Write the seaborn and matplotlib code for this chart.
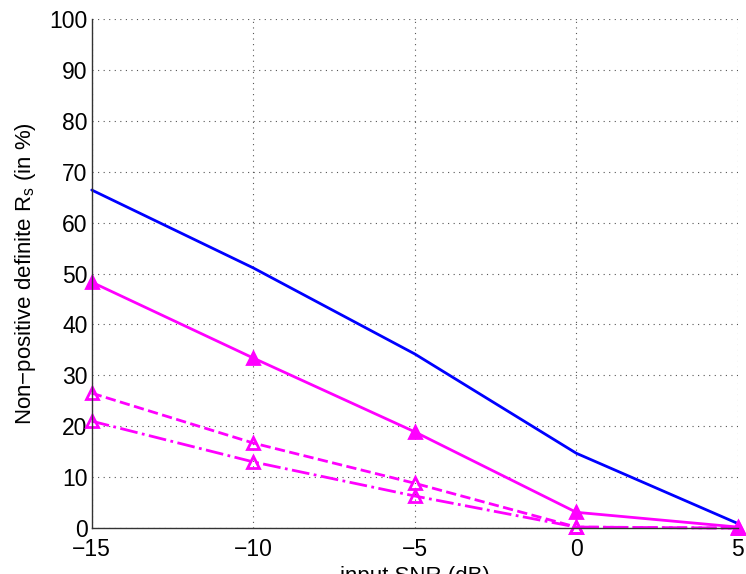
import numpy as np
import pandas as pd
import matplotlib
matplotlib.use("Agg")
import matplotlib.pyplot as plt
from matplotlib.ticker import MultipleLocator
import seaborn as sns

snr = [-15, -10, -5, 0, 5]
blue_vals = [66.4, 51.1, 34.2, 14.7, 0.9]
solid_vals = [48.3, 33.4, 18.9, 3.1, 0.2]
dashed_vals = [26.5, 16.7, 8.8, 0.2, 0.0]
dashdot_vals = [21.0, 13.0, 6.3, 0.2, 0.0]

sns.set_style("white")
plt.rcParams['font.family'] = ['Liberation Sans', 'DejaVu Sans']
plt.rcParams['text.color'] = 'black'
plt.rcParams['axes.labelcolor'] = 'black'
plt.rcParams['xtick.color'] = 'black'
plt.rcParams['ytick.color'] = 'black'

fig = plt.figure(figsize=(7.46, 5.74), dpi=100)
ax = fig.add_axes([0.123, 0.080, 0.866, 0.887])

series = [
    ("blue", blue_vals, "#0000ff", "-", None, True),
    ("solid", solid_vals, "#ff00ff", "-", "^", True),
    ("dashed", dashed_vals, "#ff00ff", "--", "^", False),
    ("dashdot", dashdot_vals, "#ff00ff", "-.", "^", False),
]

for name, vals, col, ls, mk, filled in series:
    df = pd.DataFrame({"snr": snr, "val": vals})
    sns.lineplot(data=df, x="snr", y="val", ax=ax, color=col, linestyle=ls,
                 linewidth=2, marker=mk, markersize=9,
                 markerfacecolor=(col if filled else "none"),
                 markeredgecolor=col, markeredgewidth=2, clip_on=False)

ax.set_xlim(-15, 5)
ax.set_ylim(0, 100)
ax.set_xticks(snr)
ax.set_xticklabels(["\u221215", "\u221210", "\u22125", "0", "5"])
ax.set_yticks(range(0, 101, 10))
ax.xaxis.set_minor_locator(MultipleLocator(1))
ax.yaxis.set_minor_locator(MultipleLocator(2))
ax.tick_params(axis="both", which="major", direction="in", length=6,
               labelsize=16.5, width=1, pad=3)
ax.tick_params(axis="both", which="minor", direction="in", length=3, width=0.8)
ax.tick_params(axis="x", pad=7)

ax.grid(True, which="major", linestyle=(0, (1, 4)), color="#555555", linewidth=0.8)
for s in ["top", "right"]:
    ax.spines[s].set_visible(False)
for s in ["left", "bottom"]:
    ax.spines[s].set_color("#333333")
    ax.spines[s].set_linewidth(1)

ax.set_xlabel("input SNR (dB)", fontsize=16, labelpad=4)
ax.set_ylabel("Non\u2212positive definite R$_\\mathregular{s}$ (in %)", fontsize=16, labelpad=8)

fig.savefig("out.png", dpi=100)
